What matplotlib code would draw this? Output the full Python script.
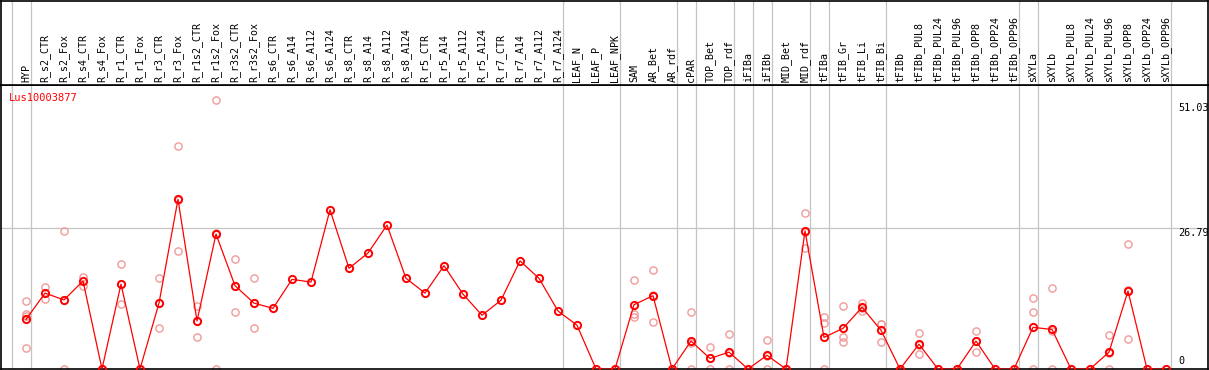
import matplotlib
matplotlib.use("Agg")
import matplotlib.pyplot as plt
import matplotlib.transforms as mtransforms

# column names (one per sample)
samples = [
    "HYP", "R_s2_CTR", "R_s2_Fox", "R_s4_CTR", "R_s4_Fox", "R_r1_CTR", "R_r1_Fox",
    "R_r3_CTR", "R_r3_Fox", "R_r1s2_CTR", "R_r1s2_Fox", "R_r3s2_CTR", "R_r3s2_Fox",
    "R_s6_CTR", "R_s6_A14", "R_s6_A112", "R_s6_A124", "R_s8_CTR", "R_s8_A14",
    "R_s8_A112", "R_s8_A124", "R_r5_CTR", "R_r5_A14", "R_r5_A112", "R_r5_A124",
    "R_r7_CTR", "R_r7_A14", "R_r7_A112", "R_r7_A124", "LEAF_N", "LEAF_P", "LEAF_NPK",
    "SAM", "AR_Bet", "AR_rdf", "cPAR", "TOP_Bet", "TOP_rdf", "iFIBa", "iFIBb",
    "MID_Bet", "MID_rdf", "tFIBa", "tFIB_Gr", "tFIB_Li", "tFIB_Bi", "tFIBb",
    "tFIBb_PUL8", "tFIBb_PUL24", "tFIBb_PUL96", "tFIBb_OPP8", "tFIBb_OPP24",
    "tFIBb_OPP96", "sXYLa", "sXYLb", "sXYLb_PUL8", "sXYLb_PUL24", "sXYLb_PUL96",
    "sXYLb_OPP8", "sXYLb_OPP24", "sXYLb_OPP96",
]

# mean expression per sample
means = [
    9.4, 14.4, 13.1, 16.7, 0, 16.1, 0, 12.5, 32.2, 9.1,
    25.6, 15.8, 12.5, 11.5, 17.0, 16.5, 30.2, 19.1, 22.0, 27.3,
    17.2, 14.4, 19.6, 14.2, 10.2, 13.05, 20.5, 17.2, 11.0, 8.3,
    0, 0, 12.2, 13.9, 0, 5.3, 2.0, 3.2, 0, 2.6,
    0, 26.2, 6.0, 7.7, 11.7, 7.35, 0, 4.7, 0, 0,
    5.3, 0, 0, 7.9, 7.5, 0, 0, 3.2, 14.8, 0, 0,
]

# individual replicates per sample
replicates = [
    [12.9, 10.4, 10.0, 3.9], [15.5, 13.2], [26.2, 13.1, 0], [17.5, 15.8], [],
    [19.9, 16.1, 12.3], [], [17.2, 12.6, 7.7], [42.3, 32.0, 22.4], [12.0, 9.1, 6.0],
    [51.03, 25.8, 0], [20.8, 15.8, 10.8], [17.2, 12.5, 7.7],
    [], [], [], [], [], [], [], [], [], [], [], [], [], [], [], [], [], [], [],
    [16.9, 10.4, 9.9], [18.75, 14.0, 8.9], [], [10.8, 5.0, 0], [4.1, 2.0, 0],
    [6.6, 3.0, 0], [], [5.45, 2.4, 0], [], [29.6, 26.0, 23.0], [9.8, 8.7, 0],
    [11.9, 6.0, 5.1], [12.6, 11.6, 11.0], [8.5, 8.5, 5.1], [], [6.8, 4.5, 2.8],
    [], [], [7.2, 5.4, 3.2], [], [], [13.4, 10.8, 0], [15.3, 7.3, 0], [], [],
    [6.4, 3.1, 0], [23.7, 14.9, 5.6], [], [],
]

# group separators come after these sample indices
group_ends = [-1, 0, 28, 31, 34, 35, 37, 38, 39, 41, 42, 45, 52, 53, 60]
y_marks = [51.03, 26.79, 0]
gene = "Lus10003877"

W, H = 1209, 370
fig = plt.figure(figsize=(W / 100, H / 100), dpi=100)
mono = "DejaVu Sans Mono"

x0, x1 = 1, 1208          # pixel extent of the frame
y_head, y_bot = 85, 369   # header bottom / plot bottom (pixels from top)
left = x0 / W
width = (x1 - x0) / W
ax = fig.add_axes([left, (H - y_bot) / H, width, (y_bot - y_head) / H])
hx = fig.add_axes([left, (H - y_head) / H, width, (y_head - 0.5) / H])

xlim = ((x0 - 26) / 19, (x1 - 26) / 19)
px_per_unit = 269 / 51.03
ax.set_xlim(*xlim)
ax.set_ylim(0, (y_bot - y_head) / px_per_unit)
hx.set_xlim(*xlim)
hx.set_ylim(0, 1)

for a in (ax, hx):
    a.set_xticks([])
    a.set_yticks([])
    for s in a.spines.values():
        s.set_color("black")
        s.set_linewidth(1.2)
    for g in group_ends:
        a.axvline(g + 0.237, color="#c4c4c4", linewidth=0.9, zorder=0)

ax.axhline(26.79, color="#c4c4c4", linewidth=0.9, zorder=0)

# sample labels in header
trans = mtransforms.blended_transform_factory(hx.transData, hx.transAxes)
for i, name in enumerate(samples):
    hx.text(i, 0.03, name, rotation=90, ha="center", va="bottom",
            fontsize=7.2, family=mono, transform=trans)

# replicates
rx, ry = [], []
for i, reps in enumerate(replicates):
    for v in reps:
        rx.append(i)
        ry.append(v)
ax.plot(rx, ry, linestyle="none", marker="o", markersize=5.2,
        markerfacecolor="none", markeredgecolor="#f09a9a",
        markeredgewidth=1.0, zorder=2)

# mean line
ax.plot(range(len(means)), means, color="red", linewidth=0.9,
        marker="o", markersize=5.2, markerfacecolor="none",
        markeredgecolor="red", markeredgewidth=1.4, zorder=3)

# right hand value labels
lx = (1178 - 26) / 19
ax.text(lx, y_marks[0] - 0.6, "51.03", ha="left", va="top", fontsize=7.3, family=mono)
ax.text(lx, y_marks[1], "26.79", ha="left", va="top", fontsize=7.3, family=mono)
ax.text(lx, y_marks[2] + 0.5, "0", ha="left", va="bottom", fontsize=7.3, family=mono)

ax.text(8 / (x1 - x0), (y_bot - 98) / (y_bot - y_head), gene, color="red",
        ha="left", va="center", fontsize=7.5, family=mono, transform=ax.transAxes)

fig.savefig("out.png", dpi=100)
